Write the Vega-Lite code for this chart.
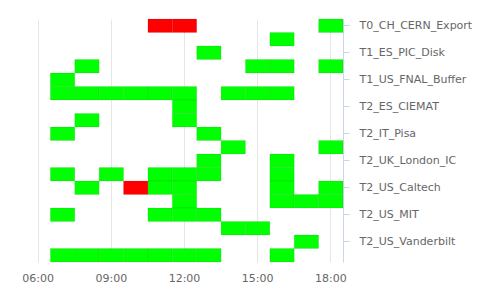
{
  "$schema": "https://vega.github.io/schema/vega-lite/v6.json",
  "width": 317,
  "height": 243,
  "padding": {"left": 21, "top": 18, "right": 5, "bottom": 5},
  "background": "#ffffff",
  "config": {"view": {"stroke": null}, "font": "DejaVu Sans"},
  "data": {"values": [
    {"site": "T0_CH_CERN_Export", "hour": 11, "status": "fail"},
    {"site": "T0_CH_CERN_Export", "hour": 12, "status": "fail"},
    {"site": "T0_CH_CERN_Export", "hour": 18, "status": "ok"},
    {"site": "T1_DE_KIT_Disk", "hour": 16, "status": "ok"},
    {"site": "T1_ES_PIC_Disk", "hour": 13, "status": "ok"},
    {"site": "T1_IT_CNAF_Disk", "hour": 8, "status": "ok"},
    {"site": "T1_IT_CNAF_Disk", "hour": 15, "status": "ok"},
    {"site": "T1_IT_CNAF_Disk", "hour": 16, "status": "ok"},
    {"site": "T1_IT_CNAF_Disk", "hour": 18, "status": "ok"},
    {"site": "T1_US_FNAL_Buffer", "hour": 7, "status": "ok"},
    {"site": "T2_CH_CSCS", "hour": 7, "status": "ok"},
    {"site": "T2_CH_CSCS", "hour": 8, "status": "ok"},
    {"site": "T2_CH_CSCS", "hour": 9, "status": "ok"},
    {"site": "T2_CH_CSCS", "hour": 10, "status": "ok"},
    {"site": "T2_CH_CSCS", "hour": 11, "status": "ok"},
    {"site": "T2_CH_CSCS", "hour": 12, "status": "ok"},
    {"site": "T2_CH_CSCS", "hour": 14, "status": "ok"},
    {"site": "T2_CH_CSCS", "hour": 15, "status": "ok"},
    {"site": "T2_CH_CSCS", "hour": 16, "status": "ok"},
    {"site": "T2_ES_CIEMAT", "hour": 12, "status": "ok"},
    {"site": "T2_IT_Legnaro", "hour": 8, "status": "ok"},
    {"site": "T2_IT_Legnaro", "hour": 12, "status": "ok"},
    {"site": "T2_IT_Pisa", "hour": 7, "status": "ok"},
    {"site": "T2_IT_Pisa", "hour": 13, "status": "ok"},
    {"site": "T2_UK_London_Brunel", "hour": 14, "status": "ok"},
    {"site": "T2_UK_London_Brunel", "hour": 18, "status": "ok"},
    {"site": "T2_UK_London_IC", "hour": 13, "status": "ok"},
    {"site": "T2_UK_London_IC", "hour": 16, "status": "ok"},
    {"site": "T2_UK_SGrid_RALPP", "hour": 7, "status": "ok"},
    {"site": "T2_UK_SGrid_RALPP", "hour": 9, "status": "ok"},
    {"site": "T2_UK_SGrid_RALPP", "hour": 11, "status": "ok"},
    {"site": "T2_UK_SGrid_RALPP", "hour": 12, "status": "ok"},
    {"site": "T2_UK_SGrid_RALPP", "hour": 13, "status": "ok"},
    {"site": "T2_UK_SGrid_RALPP", "hour": 16, "status": "ok"},
    {"site": "T2_US_Caltech", "hour": 8, "status": "ok"},
    {"site": "T2_US_Caltech", "hour": 10, "status": "fail"},
    {"site": "T2_US_Caltech", "hour": 11, "status": "ok"},
    {"site": "T2_US_Caltech", "hour": 12, "status": "ok"},
    {"site": "T2_US_Caltech", "hour": 16, "status": "ok"},
    {"site": "T2_US_Caltech", "hour": 18, "status": "ok"},
    {"site": "T2_US_Florida", "hour": 12, "status": "ok"},
    {"site": "T2_US_Florida", "hour": 16, "status": "ok"},
    {"site": "T2_US_Florida", "hour": 17, "status": "ok"},
    {"site": "T2_US_Florida", "hour": 18, "status": "ok"},
    {"site": "T2_US_MIT", "hour": 7, "status": "ok"},
    {"site": "T2_US_MIT", "hour": 11, "status": "ok"},
    {"site": "T2_US_MIT", "hour": 12, "status": "ok"},
    {"site": "T2_US_MIT", "hour": 13, "status": "ok"},
    {"site": "T2_US_Nebraska", "hour": 14, "status": "ok"},
    {"site": "T2_US_Nebraska", "hour": 15, "status": "ok"},
    {"site": "T2_US_Vanderbilt", "hour": 17, "status": "ok"},
    {"site": "T2_US_Wisconsin", "hour": 7, "status": "ok"},
    {"site": "T2_US_Wisconsin", "hour": 8, "status": "ok"},
    {"site": "T2_US_Wisconsin", "hour": 9, "status": "ok"},
    {"site": "T2_US_Wisconsin", "hour": 10, "status": "ok"},
    {"site": "T2_US_Wisconsin", "hour": 11, "status": "ok"},
    {"site": "T2_US_Wisconsin", "hour": 12, "status": "ok"},
    {"site": "T2_US_Wisconsin", "hour": 13, "status": "ok"},
    {"site": "T2_US_Wisconsin", "hour": 16, "status": "ok"}
  ]},
  "mark": {"type": "rect", "stroke": "#000000", "strokeOpacity": 0.12, "strokeWidth": 0.6},
  "encoding": {
    "x": {
      "field": "hour", "type": "ordinal",
      "scale": {"domain": [6,7,8,9,10,11,12,13,14,15,16,17,18], "paddingInner": 0, "paddingOuter": 0},
      "axis": {
        "title": null, "orient": "bottom", "values": [6,9,12,15,18], "zindex": 0,
        "labelExpr": "(datum.value < 10 ? '0' : '') + datum.value + ':00'",
        "labelAngle": 0, "domain": false, "ticks": false,
        "grid": true, "gridColor": "#e6e6e6", "gridWidth": 1, "bandPosition": 0.5,
        "labelColor": "#666666", "labelFontSize": 11, "labelPadding": 10
      }
    },
    "y": {
      "field": "site", "type": "nominal",
      "scale": {"domain": ["T0_CH_CERN_Export","T1_DE_KIT_Disk","T1_ES_PIC_Disk","T1_IT_CNAF_Disk","T1_US_FNAL_Buffer","T2_CH_CSCS","T2_ES_CIEMAT","T2_IT_Legnaro","T2_IT_Pisa","T2_UK_London_Brunel","T2_UK_London_IC","T2_UK_SGrid_RALPP","T2_US_Caltech","T2_US_Florida","T2_US_MIT","T2_US_Nebraska","T2_US_Vanderbilt","T2_US_Wisconsin"], "paddingInner": 0, "paddingOuter": 0},
      "axis": {
        "title": null, "orient": "right", "zindex": 0,
        "values": ["T0_CH_CERN_Export","T1_ES_PIC_Disk","T1_US_FNAL_Buffer","T2_ES_CIEMAT","T2_IT_Pisa","T2_UK_London_IC","T2_US_Caltech","T2_US_MIT","T2_US_Vanderbilt"],
        "domainColor": "#ccd6eb", "tickColor": "#ccd6eb", "tickSize": 6, "labelPadding": 10,
        "labelColor": "#666666", "labelFontSize": 11, "grid": false
      }
    },
    "color": {
      "field": "status", "type": "nominal",
      "scale": {"domain": ["ok", "fail"], "range": ["#00ff00", "#ff0000"]},
      "legend": null
    }
  }
}
